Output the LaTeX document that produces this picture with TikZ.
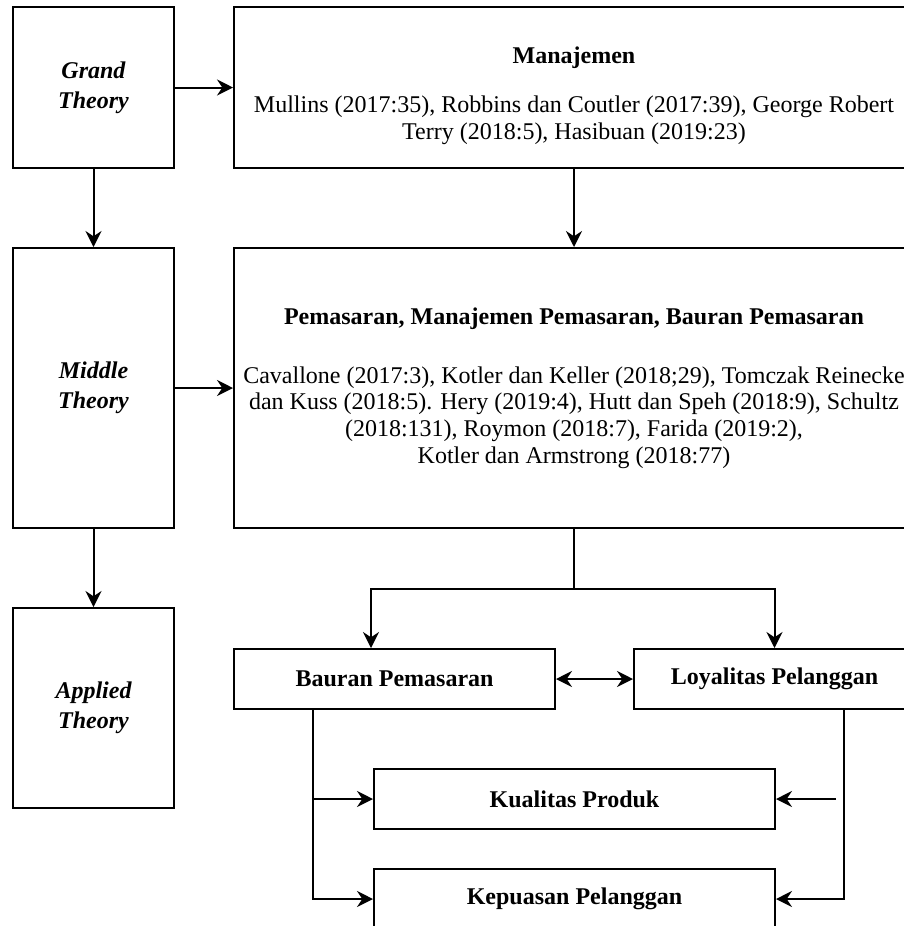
\documentclass[tikz,border=0pt]{standalone}
\usepackage{fontspec}
\setmainfont{Liberation Serif}
\usetikzlibrary{arrows.meta,calc}
\tikzset{
  box/.style={draw=black, line width=1.5pt, rectangle, align=center, inner sep=0pt,
    font=\fontsize{18pt}{20pt}\selectfont},
  boldbox/.style={box, font=\fontsize{18pt}{20pt}\selectfont\bfseries},
  theory/.style={box, font=\fontsize{18pt}{22.5pt}\selectfont\bfseries\itshape},
  tip/.tip={Stealth[length=12pt,width=12pt,inset=4pt]},
  conn/.style={line width=1.5pt, -tip},
  biconn/.style={line width=1.5pt, tip-tip},
  plain/.style={line width=1.5pt},
}
\begin{document}
\begin{tikzpicture}[x=0.75pt,y=-0.75pt]
\useasboundingbox (0,0) rectangle (904,926);
\clip (0,0) rectangle (904,926);
% left column
\node[theory, minimum width=120.75pt, minimum height=120.75pt] (grand) at (93.5,87.5) {Grand\\Theory};
\node[theory, minimum width=120.75pt, minimum height=210pt] (middle) at (93.5,388) {Middle\\Theory};
\node[theory, minimum width=120.75pt, minimum height=150pt] (applied) at (93.5,708) {Applied\\Theory};
% right big boxes
\node[box, minimum width=510pt, minimum height=120.75pt] (manaj) at (574,87.5)
  {\rule{0pt}{25pt}\textbf{Manajemen}\\[17pt]
   Mullins (2017:35), Robbins dan Coutler (2017:39), George Robert\\
   Terry (2018:5), Hasibuan (2019:23)};
\node[box, minimum width=510pt, minimum height=210pt] (pemas) at (574,388)
  {\textbf{Pemasaran, Manajemen Pemasaran, Bauran Pemasaran}\\[24pt]
   Cavallone (2017:3), Kotler dan Keller (2018;29), Tomczak Reinecke\\
   dan Kuss (2018:5). Hery (2019:4), Hutt dan Speh (2018:9), Schultz\\
   (2018:131), Roymon (2018:7), Farida (2019:2),\\
   Kotler dan Armstrong (2018:77)};
% lower boxes
\node[boldbox, minimum width=240.75pt, minimum height=45pt] (bauran) at (394.5,679) {Bauran Pemasaran};
\node[boldbox, minimum width=210.75pt, minimum height=45pt] (loyal) at (774.5,679) {Loyalitas Pelanggan};
\node[boldbox, minimum width=300.75pt, minimum height=45pt] (kual) at (574.5,799) {Kualitas Produk};
\node[boldbox, minimum width=300.75pt, minimum height=45pt] (kepu) at (574.5,899) {Kepuasan Pelanggan};
% connectors
\draw[conn] (grand) -- (manaj.west |- grand.east);
\draw[conn] (grand) -- (middle);
\draw[conn] (manaj) -- (pemas);
\draw[conn] (middle) -- (pemas.west |- middle.east);
\draw[conn] (middle) -- (applied);
\coordinate (split) at ($(pemas.south)+(0,60)$);
\coordinate (bauTop) at ($(bauran.north west)+(138,0)$);
\draw[plain] (pemas.south) -- (split);
\draw[conn] (split) -| (bauTop);
\draw[conn] (split) -| (loyal.north);
\draw[biconn] (bauran.east) -- (loyal.west);
\coordinate (bauDown) at ($(bauran.south west)+(80,0)$);
\draw[conn] (bauDown) |- (kepu.west);
\draw[conn] (bauDown |- kual.west) -- (kual.west);
\coordinate (loyDown) at ($(loyal.south west)+(211,0)$);
\draw[conn] (loyDown) |- (kepu.east);
\coordinate (kualIn) at ($(kual.east)+(60,0)$);
\draw[conn] (kualIn) -- (kual.east);
\end{tikzpicture}
\end{document}
